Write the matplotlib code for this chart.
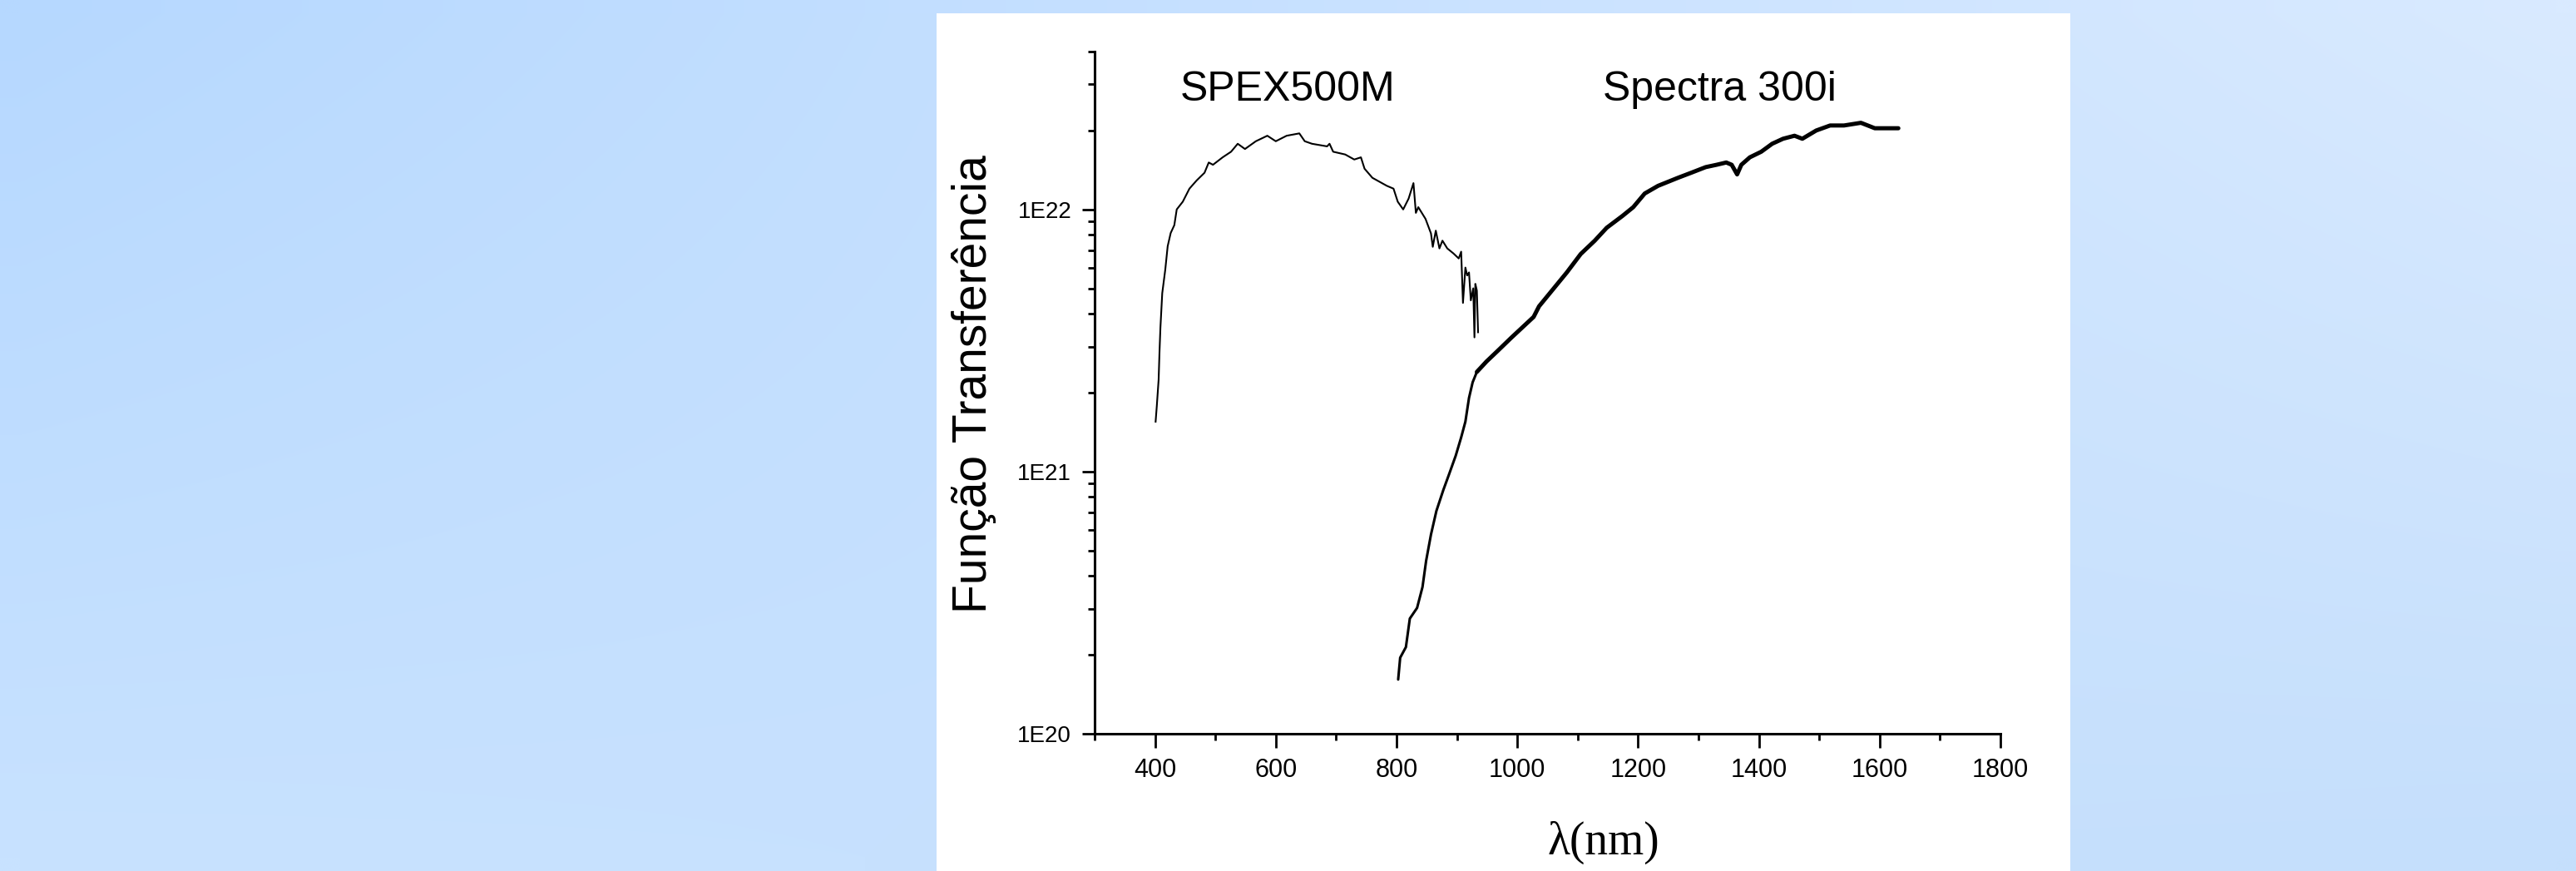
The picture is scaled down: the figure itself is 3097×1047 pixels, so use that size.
import numpy as np
import matplotlib
matplotlib.use("Agg")
import matplotlib.pyplot as plt
from matplotlib.patches import Rectangle
from matplotlib.ticker import LogLocator, MultipleLocator, FuncFormatter, NullFormatter


# SPEX500M transfer function
spex_wl = [401, 403, 406, 407.5, 409, 412, 417, 421, 426, 432, 436, 446, 457, 469,
           482, 489, 496, 512, 526, 537, 549, 567, 586, 600, 618, 639, 648, 660,
           685, 689, 695, 715, 730, 741, 747, 760, 784, 795, 802, 811, 820, 828,
           832, 836, 848, 857, 860, 865, 871, 876, 884, 894, 903, 907, 910, 914,
           917, 920, 923, 927, 929, 930.5, 933, 935]
spex_val = [1.55e21, 1.78e21, 2.24e21, 2.88e21, 3.55e21, 4.79e21, 5.89e21, 7.24e21,
            8.13e21, 8.71e21, 1.00e22, 1.07e22, 1.20e22, 1.29e22, 1.38e22, 1.51e22,
            1.48e22, 1.58e22, 1.66e22, 1.78e22, 1.70e22, 1.82e22, 1.91e22, 1.82e22,
            1.91e22, 1.95e22, 1.82e22, 1.78e22, 1.74e22, 1.78e22, 1.66e22, 1.62e22,
            1.55e22, 1.58e22, 1.43e22, 1.32e22, 1.23e22, 1.20e22, 1.07e22, 1.00e22,
            1.10e22, 1.26e22, 0.97e22, 1.02e22, 0.92e22, 8.1e21, 7.2e21, 8.3e21,
            7.1e21, 7.6e21, 7.1e21, 6.8e21, 6.5e21, 6.9e21, 4.4e21, 6.0e21,
            5.6e21, 5.75e21, 4.5e21, 5.0e21, 3.25e21, 5.2e21, 4.9e21, 3.4e21]

# Spectra 300i transfer function
spectra_wl = [802.7, 806, 815.5, 822, 834, 843, 849, 857, 866, 877.5, 887, 898, 907,
              914, 920, 926, 933, 949, 967, 990, 1027, 1036, 1082, 1105, 1128, 1148,
              1174, 1192, 1211, 1233, 1266, 1288, 1312, 1330, 1346, 1355, 1364, 1371,
              1385, 1404, 1422, 1440, 1459, 1472, 1495, 1518, 1541, 1569, 1592, 1615,
              1631]
spectra_val = [1.61e20, 1.95e20, 2.14e20, 2.75e20, 3.02e20, 3.63e20, 4.57e20, 5.75e20,
               7.08e20, 8.51e20, 9.77e20, 1.15e21, 1.35e21, 1.55e21, 1.91e21, 2.19e21,
               2.40e21, 2.63e21, 2.88e21, 3.24e21, 3.89e21, 4.27e21, 5.75e21, 6.76e21,
               7.59e21, 8.51e21, 9.44e21, 1.02e22, 1.15e22, 1.23e22, 1.32e22, 1.38e22,
               1.45e22, 1.48e22, 1.51e22, 1.48e22, 1.36e22, 1.48e22, 1.58e22, 1.66e22,
               1.78e22, 1.86e22, 1.91e22, 1.86e22, 2.00e22, 2.09e22, 2.09e22, 2.14e22,
               2.04e22, 2.04e22, 2.04e22]

curve_labels = ["SPEX500M", "Spectra 300i"]
label_pos = [(442, 2.59e22), (1142, 2.59e22)]

W, H = 3097, 1047


def main() -> None:
    plt.rcParams["font.family"] = ["Liberation Sans", "DejaVu Sans"]

    fig = plt.figure(figsize=(W / 100, H / 100), dpi=100)

    # light blue gradient background
    tl = np.array([182, 216, 255]) / 255
    tr = np.array([217, 234, 255]) / 255
    bl = np.array([200, 226, 255]) / 255
    br = np.array([197, 223, 252]) / 255
    u = np.linspace(0, 1, 64)[None, :, None]
    v = np.linspace(0, 1, 32)[:, None, None]
    grad = (1 - v) * ((1 - u) * tl + u * tr) + v * ((1 - u) * bl + u * br)
    bg = fig.add_axes([0, 0, 1, 1], zorder=-3)
    bg.imshow(grad, extent=[0, 1, 0, 1], aspect="auto", interpolation="bilinear")
    bg.axis("off")

    panel = Rectangle((1126 / W, 0), (2489 - 1126) / W, (H - 16) / H,
                      transform=fig.transFigure, facecolor="white",
                      edgecolor="none", zorder=-2)
    fig.add_artist(panel)

    ax = fig.add_axes([1316 / W, 1 - 882 / H, (2405 - 1316) / W, (882 - 62) / H])
    ax.set_facecolor("none")

    ax.plot(spex_wl, spex_val, color="black", lw=1.5)

    # the steep lower part of the Spectra 300i curve is thinner than the noisy top
    wl = np.array(spectra_wl)
    val = np.array(spectra_val)
    low = wl <= 933
    ax.plot(wl[low], val[low], color="black", lw=2.2, solid_capstyle="round")
    ax.plot(wl[~low | (wl == 933)], val[~low | (wl == 933)], color="black", lw=3.6,
            solid_capstyle="round")

    ax.set_yscale("log")
    ax.set_xlim(300, 1800)
    ax.set_ylim(1e20, 4e22)

    ax.xaxis.set_major_locator(MultipleLocator(200))
    ax.xaxis.set_minor_locator(MultipleLocator(100))
    ax.yaxis.set_major_locator(LogLocator(base=10))
    ax.yaxis.set_minor_locator(LogLocator(base=10, subs=np.arange(2, 10)))
    ax.yaxis.set_major_formatter(FuncFormatter(lambda val, pos: f"1E{int(round(np.log10(val)))}"))
    ax.yaxis.set_minor_formatter(NullFormatter())

    for side in ["top", "right"]:
        ax.spines[side].set_visible(False)
    for side in ["left", "bottom"]:
        ax.spines[side].set_linewidth(2.2)

    ax.tick_params(axis="x", which="major", direction="out", length=12, width=2,
                   pad=9, labelsize=22)
    ax.tick_params(axis="x", which="minor", direction="out", length=6, width=2)
    ax.tick_params(axis="y", which="major", direction="out", length=11, width=2,
                   pad=9, labelsize=20)
    ax.tick_params(axis="y", which="minor", direction="out", length=6, width=2)

    for text, (x, y) in zip(curve_labels, label_pos):
        ax.text(x, y, text, fontsize=36, ha="left", va="baseline", color="black")

    fig.text(1171 / W, 1 - 462 / H, "Função Transferência", rotation=90,
             ha="center", va="center", fontsize=41, color="black")
    fig.text(1928 / W, 1 - 1013 / H, "λ(nm)", ha="center", va="center",
             fontsize=40, family=["Liberation Serif", "DejaVu Serif"], color="black")

    fig.savefig("out.png", dpi=100)
    plt.close(fig)


if __name__ == "__main__":
    main()
